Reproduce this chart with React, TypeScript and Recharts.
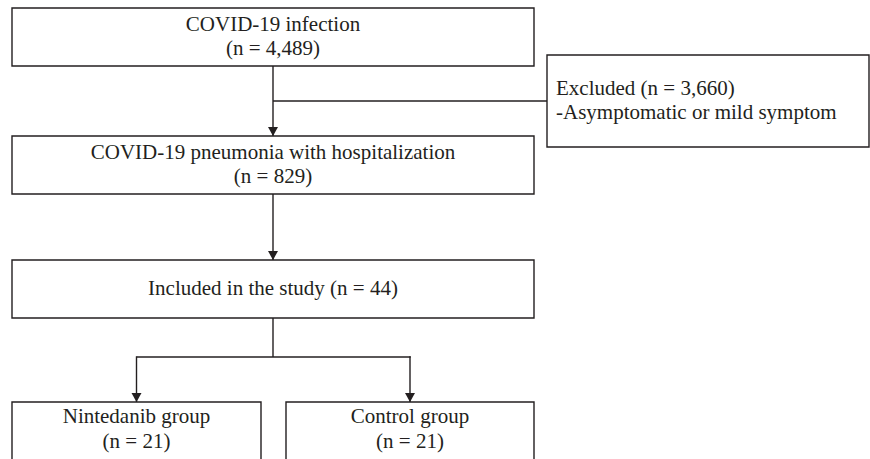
import React from 'react';
import {
  ComposedChart,
  XAxis,
  YAxis,
  Scatter,
  ReferenceArea,
  ReferenceLine,
  ReferenceDot,
} from 'recharts';

// flow content
const stageNames = ['COVID-19 infection', 'COVID-19 pneumonia with hospitalization', 'Included in the study'];
const stageCounts = [4489, 829, 44];
const excludedCount = 3660;
const excludedReasons = ['Asymptomatic or mild symptom'];
const groupNames = ['Nintedanib group', 'Control group'];
const groupCounts = [21, 21];

// layout, in the hidden axes' units (one unit = one pixel)
const W = 870;
const H = 459;
const mainCol = [12, 534];
const stageRows = [
  [8, 66],
  [136, 194],
  [260, 318],
];
const excludedCol = [547, 869];
const excludedRow = [55, 147];
const groupCols = [
  [12, 261],
  [286, 534],
];
const groupRow = [402, 480];
const excludeBranchY = 101;
const splitY = 357;

const INK = '#231f20';
const FONT = '"Liberation Serif", "Times New Roman", serif';
const LINE_H = 24.5;

const fmt = (n: number) => n.toLocaleString('en-US');

type TextNode = { x: number; y: number; lines: string[]; anchor: 'middle' | 'start' };

const mid = (a: number[]) => (a[0] + a[1]) / 2;
const firstBaseline = (row: number[], n: number) => mid(row) - ((n - 1) * LINE_H) / 2 + 6;

const stageLines = stageNames.map((name, i) =>
  i === stageNames.length - 1 ? [`${name} (n = ${fmt(stageCounts[i])})`] : [name, `(n = ${fmt(stageCounts[i])})`]
);

const textNodes: TextNode[] = [
  ...stageLines.map((lines, i) => ({
    x: mid(mainCol),
    y: firstBaseline(stageRows[i], lines.length),
    lines,
    anchor: 'middle' as const,
  })),
  {
    x: excludedCol[0] + 9,
    y: firstBaseline(excludedRow, 2),
    lines: [`Excluded (n = ${fmt(excludedCount)})`, ...excludedReasons.map((r) => `-${r}`)],
    anchor: 'start',
  },
  ...groupNames.map((name, i) => ({
    x: mid(groupCols[i]),
    y: groupRow[0] + 21,
    lines: [name, `(n = ${fmt(groupCounts[i])})`],
    anchor: 'middle' as const,
  })),
];

const TextShape = (props: any) => {
  const { cx, cy, payload } = props;
  return (
    <text
      x={cx}
      y={cy}
      textAnchor={payload.anchor}
      fontFamily={FONT}
      fontSize={21}
      fill={INK}
    >
      {payload.lines.map((l: string, i: number) => (
        <tspan key={i} x={cx} dy={i === 0 ? 0 : LINE_H}>
          {l}
        </tspan>
      ))}
    </text>
  );
};

const Arrow = (props: any) => {
  const { cx, cy } = props;
  return <path d={`M${cx},${cy} L${cx - 5},${cy - 9} L${cx + 5},${cy - 9} Z`} fill={INK} />;
};

const boxStyle = { fill: 'none', fillOpacity: 0, stroke: INK, strokeWidth: 1.4 };
const lineStyle = { stroke: INK, strokeWidth: 1.4 };

export default function App() {
  const cx = mid(mainCol);
  const arrows = [
    { x: cx, y: stageRows[1][0] },
    { x: cx, y: stageRows[2][0] },
    ...groupCols.map((c) => ({ x: mid(c), y: groupRow[0] })),
  ];
  return (
    <div style={{ position: 'absolute', left: 0, top: 0, width: W, height: H, background: '#fff' }}>
      <ComposedChart width={W} height={H} margin={{ top: 0, right: 0, bottom: 0, left: 0 }}>
        <XAxis type="number" dataKey="x" domain={[0, W]} hide allowDataOverflow />
        <YAxis type="number" dataKey="y" domain={[0, H]} reversed hide allowDataOverflow />

        {stageRows.map((r, i) => (
          <ReferenceArea key={`s${i}`} x1={mainCol[0]} x2={mainCol[1]} y1={r[0]} y2={r[1]} ifOverflow="visible" {...boxStyle} />
        ))}
        <ReferenceArea
          x1={excludedCol[0]}
          x2={excludedCol[1]}
          y1={excludedRow[0]}
          y2={excludedRow[1]}
          ifOverflow="visible"
          {...boxStyle}
        />
        {groupCols.map((c, i) => (
          <ReferenceArea key={`g${i}`} x1={c[0]} x2={c[1]} y1={groupRow[0]} y2={groupRow[1]} ifOverflow="visible" {...boxStyle} />
        ))}

        <ReferenceLine segment={[{ x: cx, y: stageRows[0][1] }, { x: cx, y: stageRows[1][0] }]} ifOverflow="visible" {...lineStyle} />
        <ReferenceLine segment={[{ x: cx, y: excludeBranchY }, { x: excludedCol[0], y: excludeBranchY }]} ifOverflow="visible" {...lineStyle} />
        <ReferenceLine segment={[{ x: cx, y: stageRows[1][1] }, { x: cx, y: stageRows[2][0] }]} ifOverflow="visible" {...lineStyle} />
        <ReferenceLine segment={[{ x: cx, y: stageRows[2][1] }, { x: cx, y: splitY }]} ifOverflow="visible" {...lineStyle} />
        <ReferenceLine
          segment={[{ x: mid(groupCols[0]), y: splitY }, { x: mid(groupCols[1]) + 0.7, y: splitY }]}
          ifOverflow="visible"
          {...lineStyle}
        />
        {groupCols.map((c, i) => (
          <ReferenceLine key={`d${i}`} segment={[{ x: mid(c), y: splitY - 0.7 }, { x: mid(c), y: groupRow[0] }]} ifOverflow="visible" {...lineStyle} />
        ))}
        {arrows.map((a, i) => (
          <ReferenceDot key={`a${i}`} x={a.x} y={a.y} r={0} ifOverflow="visible" shape={Arrow} />
        ))}

        <Scatter data={textNodes} shape={TextShape} isAnimationActive={false} />
      </ComposedChart>
    </div>
  );
}
